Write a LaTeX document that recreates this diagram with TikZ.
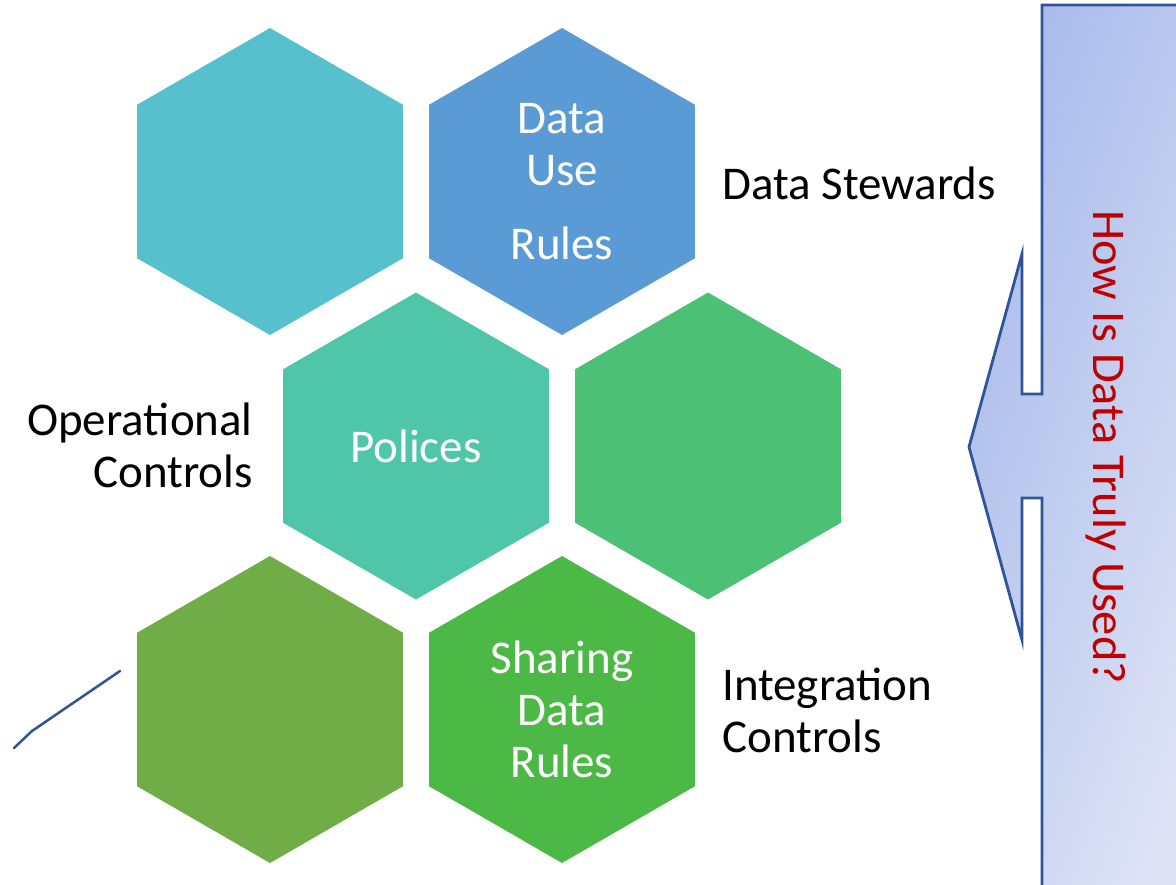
\documentclass[tikz,border=0pt]{standalone}
\usepackage{fontspec}
\setmainfont{Carlito}
\usetikzlibrary{shapes.geometric}

\definecolor{hexteal}{HTML}{56C1CD}
\definecolor{hexblue}{HTML}{5B9BD5}
\definecolor{hexmint}{HTML}{50C6A9}
\definecolor{hexgreen}{HTML}{4CC075}
\definecolor{hexolive}{HTML}{70AD47}
\definecolor{hexlime}{HTML}{4CB946}
\definecolor{calloutA}{HTML}{A7BAEB}
\definecolor{calloutB}{HTML}{DEE3F5}
\definecolor{calloutline}{HTML}{2F5597}
\definecolor{askred}{HTML}{C00000}

\tikzset{
  bigtext/.style={font=\fontsize{33.4pt}{37pt}\selectfont},
  hexcell/.style={regular polygon, regular polygon sides=6, shape border rotate=30,
    minimum size=307*0.025cm, inner sep=0pt, draw=none, text=white, align=center, bigtext},
  sidelabel/.style={inner sep=0pt, bigtext}
}

\begin{document}
\begin{tikzpicture}[x=0.025cm, y=-0.025cm]
\useasboundingbox (0,0) rectangle (1176,884);
\clip (0,0) rectangle (1176,884);

% honeycomb
\node[hexcell, fill=hexteal]  (stew)   at (270,181.5) {};
\node[hexcell, fill=hexblue]  (use)    at (562,181.5) {Data\\Use\\[0.45em]Rules};
\node[hexcell, fill=hexmint]  (pol)    at (416,446) {Polices};
\node[hexcell, fill=hexgreen] (ops)    at (708,446) {};
\node[hexcell, fill=hexolive] (integ)  at (270,709.5) {};
\node[hexcell, fill=hexlime]  (share)  at (562,709.5) {Sharing\\Data\\Rules};

% labels beside the cells
\node[sidelabel, anchor=west] (stewlbl) at (722,183) {Data Stewards};
\node[sidelabel, anchor=east, align=right] (opslbl) at (253,445) {Operational\\Controls};
\node[sidelabel, anchor=west, align=left] (intlbl) at (722,710) {Integration\\Controls};

% left arrow callout on the right
\shade[left color=calloutA, right color=calloutB, shading angle=70,
  draw=calloutline, line width=2pt, line join=miter]
  (1042,5) -- (1200,5) -- (1200,900) -- (1042,900) -- (1042,498) -- (1022,498)
  -- (1022,640) -- (969,447) -- (1022,254) -- (1022,394) -- (1042,394) -- cycle;
\node[sidelabel, text=askred, rotate=-90, xscale=1.03] (ask) at (1106,447) {How Is Data Truly Used?};

% stray pen stroke
\draw[calloutline, line width=1.8pt, line cap=round] (14,748) -- (32,731) -- (120,671);
\end{tikzpicture}
\end{document}
